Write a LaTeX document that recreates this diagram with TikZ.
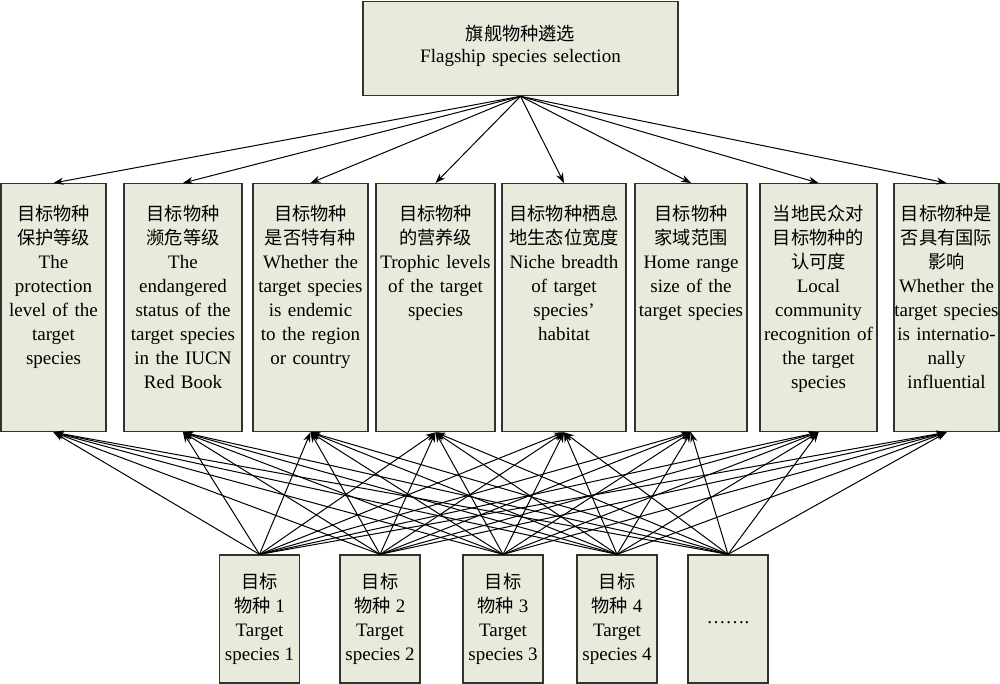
\documentclass[tikz,border=0pt]{standalone}
\usepackage{fontspec}
\setmainfont{Liberation Serif}
\newfontfamily\cjk[Scale=0.96]{Noto Sans CJK SC}
\usepackage{tikz}
\usepackage{xcolor}
\usetikzlibrary{arrows.meta}
\definecolor{boxgreen}{RGB}{230,235,219}
\definecolor{boxline}{RGB}{50,50,50}

\begin{document}
\begin{tikzpicture}[x=0.5pt,y=-0.5pt,
		box/.style={draw=boxline,fill=boxgreen,line width=0.65pt,align=center,font=\fontsize{9.5}{12}\selectfont},
		mid/.style={box,anchor=north,inner xsep=0.5pt,inner ysep=10pt,text height=8.5pt,text depth=95.5pt},
		tgt/.style={box,minimum width=40pt,minimum height=64pt,inner sep=0pt},
		arr/.style={-{Stealth[length=5pt,width=3.6pt]},line width=0.5pt}]
				\useasboundingbox (0,0) rectangle (1000,684);
				\node [box,anchor=north,text width=156pt,inner xsep=0.75pt,inner ysep=10pt,text height=9.5pt,text depth=17.5pt,font=\fontsize{9.5}{11}\selectfont] (sel) at (520.5,1) {{\cjk 旗舰物种遴选}\\Flagship species selection};
				\node [mid,text width=51.5pt] (m1) at (53.5,183) {{\cjk 目标物种}\\{\cjk 保护等级}\\The\\protection\\level of the\\target\\species};
				\node [mid,text width=58pt] (m2) at (183,183) {{\cjk 目标物种}\\{\cjk 濒危等级}\\The\\endangered\\status of the\\target species\\in the IUCN\\Red Book};
				\node [mid,text width=56.5pt] (m3) at (310.5,183) {{\cjk 目标物种}\\{\cjk 是否特有种}\\Whether the\\target species\\is endemic\\to the region\\or country};
				\node [mid,text width=58.5pt] (m4) at (435.5,183) {{\cjk 目标物种}\\{\cjk 的营养级}\\Trophic levels\\of the target\\species};
				\node [mid,text width=61pt] (m5) at (564,183) {{\cjk 目标物种栖息}\\{\cjk 地生态位宽度}\\Niche breadth\\of target\\species’\\habitat};
				\node [mid,text width=55pt] (m6) at (691,183) {{\cjk 目标物种}\\{\cjk 家域范围}\\Home range\\size of the\\target species};
				\node [mid,text width=57.5pt] (m7) at (818.5,183) {{\cjk 当地民众对}\\{\cjk 目标物种的}\\{\cjk 认可度}\\Local\\community\\recognition of\\the target\\species};
				\node [mid,text width=51.5pt] (m8) at (946.5,183) {{\cjk 目标物种是}\\{\cjk 否具有国际}\\{\cjk 影响}\\Whether the\\\makebox[\linewidth]{target species}\\is internatio-\\nally\\influential};
				\node [tgt] (t1) at (259.5,619) {{\cjk 目标}\\{\cjk 物种} 1\\Target\\species 1};
				\node [tgt] (t2) at (380,619) {{\cjk 目标}\\{\cjk 物种} 2\\Target\\species 2};
				\node [tgt] (t3) at (503,619) {{\cjk 目标}\\{\cjk 物种} 3\\Target\\species 3};
				\node [tgt] (t4) at (617,619) {{\cjk 目标}\\{\cjk 物种} 4\\Target\\species 4};
				\node [tgt] (t5) at (728,619) {\strut…….};
				\foreach \m in {1,...,8}
					\draw [arr] (sel.south) -- (m\m.north);
				\foreach \t in {1,...,5}
					\foreach \m in {1,...,8}
						\draw [arr] (t\t.north) -- (m\m.south);
\end{tikzpicture}
\end{document}
